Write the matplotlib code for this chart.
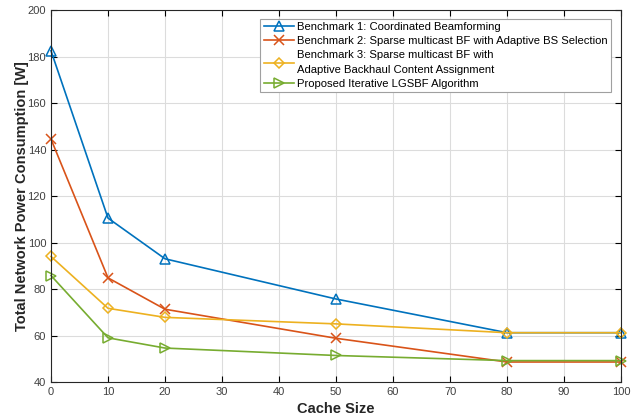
import numpy as np
import matplotlib
matplotlib.use('Agg')
import matplotlib.pyplot as plt

# Data
cache_size = [0, 10, 20, 50, 80, 100]
bench1 = [182.5, 110.5, 93.0, 75.7, 61.2, 61.2]
bench2 = [144.5, 84.8, 71.3, 58.8, 48.6, 48.6]
bench3 = [94.0, 71.7, 67.8, 65.0, 61.2, 61.2]
proposed = [85.8, 59.0, 54.6, 51.4, 49.2, 49.2]

labels = [
    'Benchmark 1: Coordinated Beamforming',
    'Benchmark 2: Sparse multicast BF with Adaptive BS Selection',
    'Benchmark 3: Sparse multicast BF with\nAdaptive Backhaul Content Assignment',
    'Proposed Iterative LGSBF Algorithm',
]
colors = ['#0072BD', '#D95319', '#EDB120', '#77AC30']
markers = ['^', 'x', 'D', '>']

plt.rcParams['font.family'] = ['Liberation Sans', 'DejaVu Sans']

fig = plt.figure(figsize=(6.39, 4.2), dpi=100)
ax = fig.add_axes([0.0798, 0.0905, 0.8922, 0.8855])

series = [bench1, bench2, bench3, proposed]
for ys, lab, c, m in zip(series, labels, colors, markers):
    ms = 5 if m == 'D' else 6.5
    ax.plot(cache_size, ys, color=c, marker=m, label=lab, linewidth=1.2,
            markersize=ms, markerfacecolor='none', markeredgecolor=c,
            markeredgewidth=1.1, clip_on=False, zorder=3)

ax.set_xlim(0, 100)
ax.set_ylim(40, 200)
ax.set_xticks(np.arange(0, 101, 10))
ax.set_yticks(np.arange(40, 201, 20))
ax.grid(True, color='#dcdcdc', linewidth=0.8)
ax.set_axisbelow(True)
ax.tick_params(direction='in', top=True, right=True, labelsize=8,
               labelcolor='#404040', length=4, width=0.8)
for s in ax.spines.values():
    s.set_color('#262626')
    s.set_linewidth(0.8)
    s.set_zorder(4)

ax.set_xlabel('Cache Size', fontsize=10.5, fontweight='bold', color='#262626')
ax.set_ylabel('Total Network Power Consumption [W]', fontsize=10.5,
              fontweight='bold', color='#262626', labelpad=-1)

leg = ax.legend(loc='upper right', bbox_to_anchor=(0.982, 0.976), fontsize=8.15,
                fancybox=False, edgecolor='#a0a0a0', framealpha=1,
                handlelength=2.65, handletextpad=0.27, borderpad=0.3,
                labelspacing=0.34, borderaxespad=0)
leg.get_frame().set_linewidth(0.8)
leg.set_zorder(5)
for t in leg.get_texts():
    t.set_linespacing(1.6)

fig.savefig('out.png', dpi=100, facecolor='white')
